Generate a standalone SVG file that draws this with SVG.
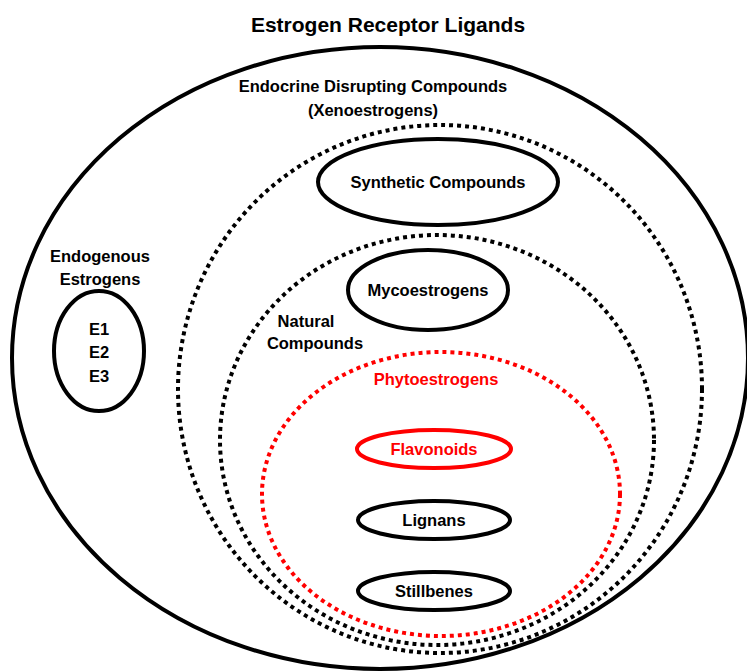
<svg xmlns="http://www.w3.org/2000/svg" width="747" height="671" viewBox="0 0 747 671">
<style>
text{font-family:"Liberation Sans",Arial,sans-serif;font-weight:bold;text-anchor:middle;fill:#000}
.t{font-size:16.5px}
.red{fill:#f00}
.solid{fill:none;stroke:#000;stroke-width:4}
.dot{fill:none;stroke:#000;stroke-width:4;stroke-dasharray:4 4}
.rdot{fill:none;stroke:#f00;stroke-width:4;stroke-dasharray:4 4}
.rsolid{fill:none;stroke:#f00;stroke-width:4}
</style>
<rect width="747" height="671" fill="#fff"/>
<text x="388" y="32" style="font-size:21px">Estrogen Receptor Ligands</text>
<g id="estrogen-receptor-ligands">
<ellipse class="solid" cx="380" cy="358" rx="368" ry="311"/>
</g>
<g id="endocrine-disrupting-compounds">
<ellipse class="dot" cx="440" cy="389" rx="262" ry="264"/>
<text class="t" x="373" y="92">Endocrine Disrupting Compounds</text>
<text class="t" x="373" y="116">(Xenoestrogens)</text>
</g>
<g id="synthetic-compounds">
<ellipse class="solid" cx="438" cy="182" rx="120" ry="43"/>
<text class="t" x="438" y="188">Synthetic Compounds</text>
</g>
<g id="natural-compounds">
<ellipse class="dot" cx="437" cy="440" rx="217" ry="205"/>
<text class="t" x="306" y="327">Natural</text>
<text class="t" x="315" y="349">Compounds</text>
</g>
<g id="mycoestrogens">
<ellipse class="solid" cx="428" cy="290" rx="80" ry="40"/>
<text class="t" x="428" y="296">Mycoestrogens</text>
</g>
<g id="phytoestrogens">
<ellipse class="rdot" cx="441" cy="494" rx="179" ry="142"/>
<text class="t red" x="436" y="385">Phytoestrogens</text>
</g>
<g id="flavonoids">
<ellipse class="rsolid" cx="434" cy="449" rx="77" ry="19"/>
<text class="t red" x="434" y="455">Flavonoids</text>
</g>
<g id="lignans">
<ellipse class="solid" cx="434" cy="520" rx="76" ry="19"/>
<text class="t" x="434" y="526">Lignans</text>
</g>
<g id="stillbenes">
<ellipse class="solid" cx="434" cy="591" rx="76" ry="19"/>
<text class="t" x="434" y="597">Stillbenes</text>
</g>
<g id="endogenous-estrogens">
<text class="t" x="100" y="262">Endogenous</text>
<text class="t" x="100" y="285">Estrogens</text>
<ellipse class="solid" cx="99" cy="351" rx="45" ry="60"/>
<text class="t" x="99" y="335">E1</text>
<text class="t" x="99" y="358">E2</text>
<text class="t" x="99" y="382">E3</text>
</g>
<g id="connectors"></g>
</svg>
